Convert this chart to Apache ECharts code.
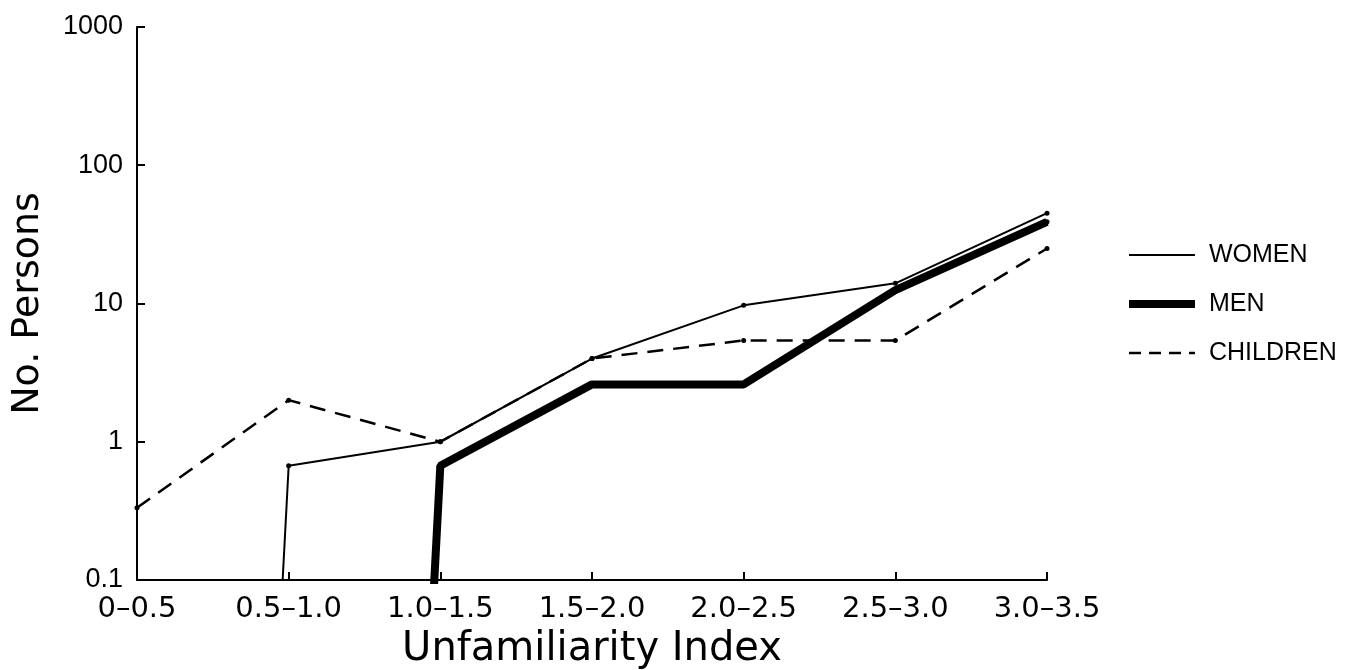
<!DOCTYPE html>
<html>
<head>
<meta charset="utf-8">
<script src="https://cdn.jsdelivr.net/npm/echarts@6/dist/echarts.min.js"></script>
<style>
html,body{margin:0;padding:0;background:#fff;}
#chart{width:1353px;height:670px;}
</style>
</head>
<body>
<div id="chart"></div>
<script>
// Categories of the Unfamiliarity Index
var categories = ['0\u20130.5', '0.5\u20131.0', '1.0\u20131.5', '1.5\u20132.0', '2.0\u20132.5', '2.5\u20133.0', '3.0\u20133.5'];
// A count of zero cannot sit on a log axis; it is given as a tiny value so the line drops below the axis floor
var women    = [1e-21, 0.67, 1.0, 4.0, 9.7, 14, 45];
var men      = [1e-21, 1e-21, 0.67, 2.6, 2.6, 12.5, 39];
var children = [0.333, 2.0, 1.0, 4.0, 5.4, 5.4, 25];
var yTicks = [0.1, 1, 10, 100, 1000];

var ink = '#000';
var chart = echarts.init(document.getElementById('chart'), null, {renderer: 'canvas'});
var option = {
  animation: false,
  backgroundColor: '#fff',
  grid: {left: 137, right: 306, top: 27, bottom: 90, containLabel: false, outerBoundsMode: 'none'},
  legend: {
    orient: 'vertical',
    left: 1125,
    top: 242,
    padding: 0,
    itemWidth: 66,
    itemHeight: 14,
    itemGap: 23,
    itemStyle: {opacity: 0},
    textStyle: {fontFamily: 'Liberation Sans', fontSize: 25, color: ink, lineHeight: 26, padding: [0, 0, 0, 9]},
    data: [
      {name: 'WOMEN', lineStyle: {width: 2}},
      {name: 'MEN', lineStyle: {width: 8}},
      {name: 'CHILDREN', lineStyle: {width: 2.5, type: [12, 8]}}
    ]
  },
  xAxis: {
    type: 'category',
    data: categories,
    boundaryGap: false,
    name: 'Unfamiliarity Index',
    nameLocation: 'middle',
    nameGap: 50,
    nameTextStyle: {fontFamily: 'DejaVu Sans', fontSize: 40, color: ink},
    axisLine: {lineStyle: {color: ink, width: 2}},
    axisTick: {inside: true, length: 8, lineStyle: {color: ink, width: 2}},
    axisLabel: {fontFamily: 'DejaVu Sans', fontSize: 29, color: ink, margin: 15},
    splitLine: {show: false}
  },
  yAxis: {
    type: 'log',
    logBase: 10,
    min: yTicks[0],
    max: yTicks[yTicks.length - 1],
    name: 'No. Persons',
    nameLocation: 'middle',
    nameGap: 90,
    nameTextStyle: {fontFamily: 'DejaVu Sans', fontSize: 38, color: ink},
    axisLine: {show: true, lineStyle: {color: ink, width: 2}},
    axisTick: {show: true, inside: true, length: 8, lineStyle: {color: ink, width: 2}},
    axisLabel: {
      fontFamily: 'Liberation Sans', fontSize: 27, color: ink, margin: 14,
      formatter: function (v) {
        for (var i = 0; i < yTicks.length; i++) {
          if (Math.abs(v - yTicks[i]) / yTicks[i] < 1e-6) return String(yTicks[i]);
        }
        return '';
      }
    },
    splitLine: {show: false}
  },
  series: [
    {
      name: 'WOMEN', type: 'line', data: women, clip: true,
      symbol: 'circle', symbolSize: 5, showSymbol: true,
      lineStyle: {color: ink, width: 2},
      itemStyle: {color: ink},
      z: 3
    },
    {
      name: 'MEN', type: 'line', data: men, clip: true,
      symbol: 'circle', symbolSize: 5,
      lineStyle: {color: ink, width: 8},
      itemStyle: {color: ink},
      z: 2
    },
    {
      name: 'CHILDREN', type: 'line', data: children, clip: true,
      symbol: 'circle', symbolSize: 5,
      lineStyle: {color: ink, width: 2.5, type: [16, 10]},
      itemStyle: {color: ink},
      z: 4
    }
  ]
};
chart.setOption(option);
</script>
</body>
</html>
